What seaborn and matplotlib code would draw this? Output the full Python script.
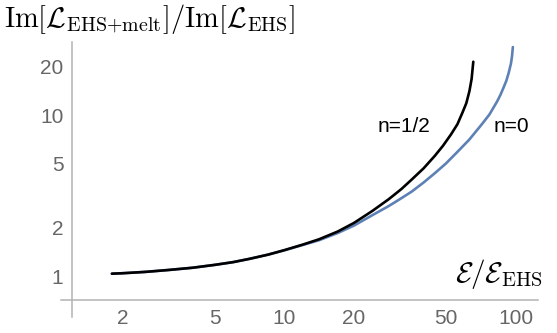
import numpy as np
import pandas as pd
import matplotlib
matplotlib.use("Agg")
import matplotlib.pyplot as plt
import seaborn as sns

# values (log-log axes)
x_half = [1.79, 2.0, 2.5, 3.16, 4.0, 5.0, 6.0, 7.08, 8.5, 10.0, 12.0, 14.1, 17.0, 20.0, 24.0,
          28.2, 32.0, 35.5, 40.0, 44.7, 48.5, 52.5, 56.0, 58.9, 61.2, 63.1, 64.5, 65.6]
y_half = [1.04, 1.047, 1.067, 1.097, 1.132, 1.18, 1.227, 1.287, 1.366, 1.457, 1.576, 1.70, 1.90,
          2.15, 2.55, 3.01, 3.48, 3.99, 4.69, 5.6, 6.47, 7.6, 8.8, 10.4, 11.9, 14.1, 16.8, 21.5]

x_zero = [1.79, 2.0, 2.5, 3.16, 4.0, 5.0, 6.0, 7.08, 8.5, 10.0, 12.0, 14.1, 17.0, 20.0, 24.0,
          28.2, 31.6, 35.5, 40.0, 44.7, 50.0, 56.2, 63.0, 70.8, 77.0, 83.2, 86.0, 89.1, 91.2,
          93.3, 95.5, 96.5, 97.3]
y_zero = [1.04, 1.047, 1.067, 1.097, 1.132, 1.18, 1.227, 1.287, 1.366, 1.453, 1.568, 1.677, 1.86,
          2.07, 2.40, 2.73, 3.02, 3.36, 3.83, 4.37, 5.03, 5.96, 7.06, 8.66, 10.1, 12.2, 13.4, 15.1,
          16.4, 18.3, 21.0, 23.3, 26.5]

x_ticks = [2, 5, 10, 20, 50, 100]
y_ticks = [1, 2, 5, 10, 20]

df = pd.concat([
    pd.DataFrame({"E": x_zero, "ratio": y_zero, "n": "n=0"}),
    pd.DataFrame({"E": x_half, "ratio": y_half, "n": "n=1/2"}),
])

sns.set_style("white")
plt.rcParams["font.family"] = ["Liberation Sans", "DejaVu Sans"]
plt.rcParams["mathtext.fontset"] = "cm"

fig = plt.figure(figsize=(5.57, 3.33), dpi=100)
ax = fig.add_axes([61 / 557, 1 - 317 / 333, 477 / 557, 275 / 333])

sns.lineplot(data=df, x="E", y="ratio", hue="n", palette={"n=0": "#5e81b5", "n=1/2": "black"},
             linewidth=1.9, sort=False, estimator=None, legend=False, ax=ax)

ax.set_xscale("log")
ax.set_yscale("log")
ax.set_xlim(1.078, 125)
ax.set_ylim(0.56, 28.5)

for s in ["top", "right"]:
    ax.spines[s].set_visible(False)
ax.spines["left"].set_position(("data", 1.2))
ax.spines["bottom"].set_position(("data", 0.717))
for s in ["left", "bottom"]:
    ax.spines[s].set_color("#b3b3b3")
    ax.spines[s].set_linewidth(1.1)

ax.set_xticks(x_ticks)
ax.set_xticklabels([str(v) for v in x_ticks])
ax.set_yticks(y_ticks)
ax.set_yticklabels([str(v) for v in y_ticks])
ax.minorticks_off()
ax.tick_params(axis="both", direction="in", length=4, width=1, color="#b3b3b3",
               labelcolor="#666666", labelsize=15)
ax.tick_params(axis="x", pad=7)
ax.tick_params(axis="y", pad=6)
ax.set_xlabel("")
ax.set_ylabel("")

ax.text(33.0, 8.46, "n=1/2", ha="center", va="center", fontsize=15, color="black")
ax.text(95.6, 8.46, "n=0", ha="center", va="center", fontsize=15, color="black")

fig.text(0.008, 0.995, r"$\mathrm{Im}[\mathcal{L}_{\mathrm{EHS{+}melt}}]/\mathrm{Im}[\mathcal{L}_{\mathrm{EHS}}]$",
         ha="left", va="top", fontsize=20.5, color="black")
fig.text(543 / 557, 1 - 291 / 333, r"$\mathcal{E}/\mathcal{E}_{\mathrm{EHS}}$",
         ha="right", va="bottom", fontsize=21, color="black")

fig.savefig("out.png", dpi=100, facecolor="white")
